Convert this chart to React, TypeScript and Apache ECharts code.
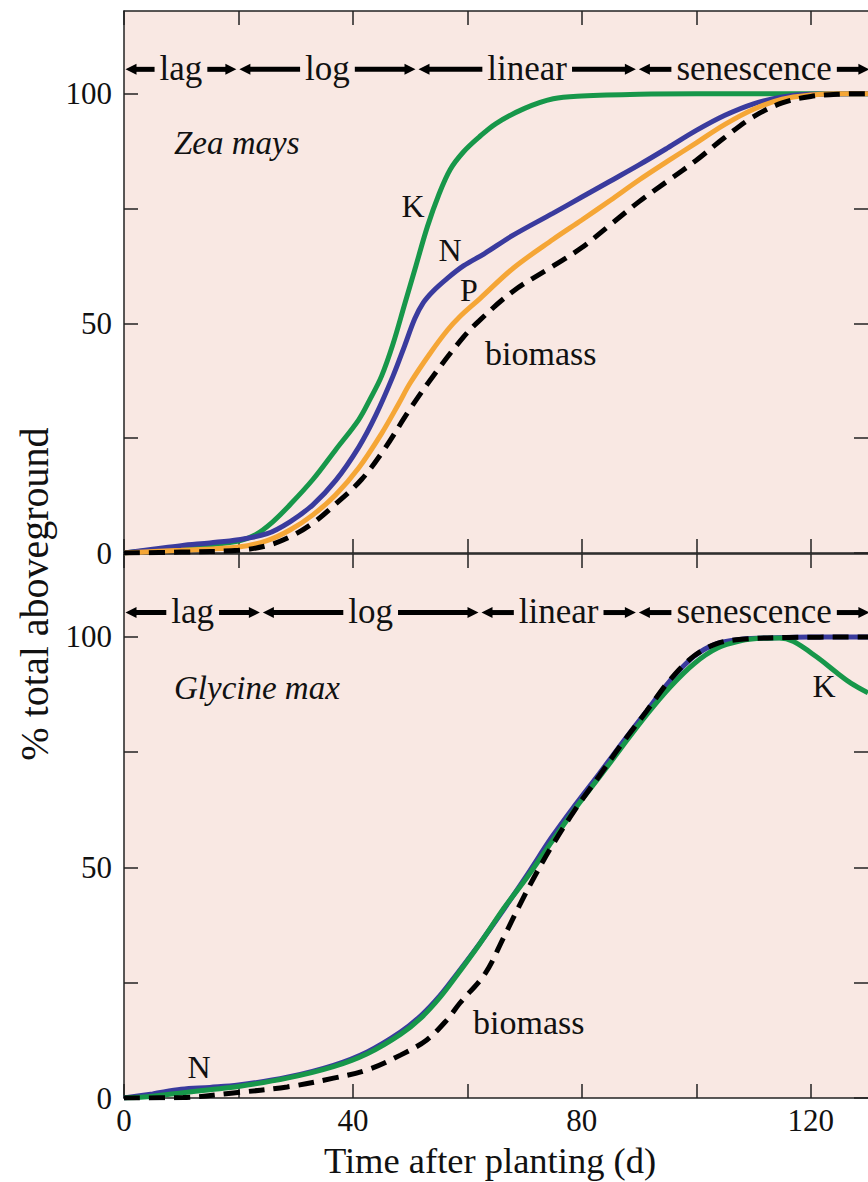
import React, { useEffect, useRef } from "react";
import * as echarts from "echarts";

// ---------- axes ----------
const X_TICKS = [0, 20, 40, 60, 80, 100, 120];
const X_LABELS = [0, 40, 80, 120];
const Y_TICKS = [0, 25, 50, 75, 100];
const Y_LABELS = [0, 50, 100];

// ---------- growth phases ----------
const PHASES = ["lag", "log", "linear", "senescence"];
const zeaPhaseEdges = [0, 19.9, 51.2, 89.7, 130.5];
const glyPhaseEdges = [0, 24.0, 62.2, 89.7, 130.5];

// ---------- Zea mays ----------
const zeaKDays = [0, 5, 10, 15, 20, 23, 26, 29, 33, 37, 41, 43, 45, 47, 49, 51, 53, 55, 57, 59.3, 62, 65, 70, 75, 80, 90, 100, 110, 120, 130];
const zeaK = [0, 0.6, 1.2, 1.8, 2.6, 4, 6.8, 10.5, 16, 22.5, 29, 33.5, 38.5, 45.5, 54, 62.5, 71, 78, 83.5, 87.3, 90.5, 93.5, 96.8, 98.9, 99.5, 99.9, 100, 100, 100, 100];

const zeaNDays = [0, 5, 10, 15, 20, 25, 29, 33, 37, 41, 44, 47, 49, 50.8, 52.3, 54, 56.5, 59.3, 63, 68, 75, 80, 85, 90, 95, 100, 105, 110, 115, 120, 130];
const zeaN = [0, 0.8, 1.6, 2.2, 2.9, 4.2, 6.8, 10.5, 15.8, 23, 30, 38.5, 45, 51, 54.5, 57, 59.8, 62.5, 65.2, 69.2, 74, 77.5, 81, 84.5, 88.2, 92, 95.3, 97.8, 99.3, 99.9, 100];

const zeaPDays = [0, 10, 20, 25, 29, 33, 37, 41, 45, 48, 50, 53.5, 56.5, 58.7, 62.2, 68, 75, 80, 85, 90, 95, 100, 105, 110, 115, 120, 125, 130];
const zeaP = [0, 0.6, 1.3, 2.7, 5, 8.3, 12.7, 18.5, 26, 32.5, 37, 43.5, 48.5, 51.5, 55.4, 62, 68.3, 72.5, 76.8, 81.2, 85.3, 89.3, 93.3, 96.6, 98.8, 99.7, 100, 100];

const zeaBioDays = [0, 10, 20, 25, 29, 33, 37, 41.5, 45.6, 49.8, 54, 59.3, 62, 68, 75, 80, 85, 90, 95, 100, 105, 110, 115, 120, 125, 130];
const zeaBio = [0, 0.2, 0.6, 1.6, 3.5, 6.5, 10.7, 16, 22.8, 31, 38.5, 47, 50.5, 57, 62.5, 66.5, 71.5, 76.5, 81, 85.5, 90.5, 95, 98, 99.4, 99.9, 100];

// ---------- Glycine max ----------
const glyKDays = [0, 5, 10, 15, 20, 28.5, 36.6, 42.5, 48.3, 52, 55.2, 58.1, 62.2, 66.4, 70.5, 74.7, 78.8, 83, 87.1, 91.3, 95.4, 99.6, 103.7, 107.9, 111, 114.5, 117, 121, 124.5, 127, 130];
const glyK = [0, 0.4, 1.1, 1.8, 2.5, 4.3, 6.8, 9.6, 13.8, 17.5, 21.8, 26.5, 33.5, 41.2, 48, 55.5, 62.7, 69.5, 76.3, 83.1, 89.1, 94.2, 97.6, 99.2, 99.7, 99.8, 99, 95.7, 92.3, 90, 87.9];

const glyNDays = [0, 5, 10, 15, 20, 28.5, 36.6, 42.5, 48.3, 52, 55.2, 58.1, 62.2, 66.4, 70.5, 74.7, 78.8, 83, 87.1, 91.3, 95.4, 99.6, 103.7, 107.9, 113, 120, 130];
const glyN = [0, 0.9, 1.9, 2.3, 2.8, 4.5, 7.1, 10, 14.3, 18, 22.2, 26.8, 33.6, 41, 48.5, 56.5, 63.5, 70.3, 77.1, 83.9, 90.5, 95.8, 98.6, 99.5, 99.8, 100, 100];

const glyBioDays = [0, 10.3, 19.1, 28.5, 36.6, 42.5, 48.3, 52.9, 56.4, 58.7, 63.1, 66.4, 69, 71.5, 74.7, 78.8, 83, 87.1, 91.3, 95.4, 99.6, 103.7, 107.9, 116.2, 130];
const glyBio = [0, 0.1, 1.1, 2.4, 4.3, 6.1, 9.3, 12.6, 16.9, 20.6, 27, 35, 41.5, 47.5, 54.5, 62.5, 69.8, 77, 83.9, 90.7, 95.9, 98.6, 99.5, 99.9, 100];

// ---------- styles ----------
const FONT = '"Liberation Serif", "Times New Roman", serif';
const BG = "#f9e8e3";
const GREEN = "#17974a";
const BLUE = "#3a3b9e";
const ORANGE = "#f5a636";
const INK = "#111";
const AXIS = "#222";

const zip = (d: number[], v: number[]) => d.map((x, i) => [x, v[i]]);

export default function App() {
  const ref = useRef<HTMLDivElement>(null);

  useEffect(() => {
    if (!ref.current) return;
    const chart = echarts.init(ref.current, null, { renderer: "svg" });

    const xAxis = (gridIndex: number, position: string, showLabels: boolean) => ({
      type: "value",
      gridIndex,
      position,
      min: 0,
      max: 130,
      axisLine: { show: true, onZero: false, lineStyle: { color: AXIS, width: 1.5 } },
      axisTick: { show: true, inside: true, length: 14, customValues: X_TICKS, lineStyle: { color: AXIS, width: 1.5 } },
      axisLabel: { show: showLabels, customValues: X_LABELS, fontFamily: FONT, fontSize: 31, color: INK, margin: 7 },
      splitLine: { show: false },
    });
    const yAxis = (gridIndex: number, position: string, showLine: boolean) => ({
      type: "value",
      gridIndex,
      position,
      min: 0,
      max: 118,
      axisLine: { show: showLine, onZero: false, lineStyle: { color: AXIS, width: 1.5 } },
      axisTick: { show: true, inside: true, length: 14, customValues: Y_TICKS, lineStyle: { color: AXIS, width: 1.5 } },
      axisLabel: { show: showLine, customValues: Y_LABELS, fontFamily: FONT, fontSize: 31, color: INK, margin: 12 },
      splitLine: { show: false },
    });

    const line = (name: string, data: number[][], panel: number, color: string, dashed = false, z = 2) => ({
      name,
      type: "line",
      xAxisIndex: panel * 2,
      yAxisIndex: panel * 2,
      data,
      smooth: 0.35,
      showSymbol: false,
      symbol: "none",
      silent: true,
      z,
      lineStyle: {
        color,
        width: 5,
        type: dashed ? [16, 9] : "solid",
        cap: "butt",
      },
    });

    chart.setOption({
      animation: false,
      backgroundColor: "#ffffff",
      grid: [
        { left: 124, top: 11, width: 744, height: 542, show: true, backgroundColor: BG, borderWidth: 0 },
        { left: 124, top: 554, width: 744, height: 544, show: true, backgroundColor: BG, borderWidth: 0 },
      ],
      xAxis: [xAxis(0, "bottom", false), xAxis(0, "top", false), xAxis(1, "bottom", true), xAxis(1, "top", false)],
      yAxis: [yAxis(0, "left", true), yAxis(0, "right", false), yAxis(1, "left", true), yAxis(1, "right", false)],
      series: [
        line("K", zip(zeaKDays, zeaK), 0, GREEN, false, 2),
        line("N", zip(zeaNDays, zeaN), 0, BLUE, false, 3),
        line("P", zip(zeaPDays, zeaP), 0, ORANGE, false, 4),
        line("biomass", zip(zeaBioDays, zeaBio), 0, "#000", true, 5),
        line("N", zip(glyNDays, glyN), 1, BLUE, false, 2),
        line("K", zip(glyKDays, glyK), 1, GREEN, false, 3),
        line("biomass", zip(glyBioDays, glyBio), 1, "#000", true, 5),
      ],
    });

    // --- phase arrows, positioned through the axes ---
    const PHASE_SIZE = 35;
    const canvas = document.createElement("canvas");
    const ctx = canvas.getContext("2d")!;
    ctx.font = `${PHASE_SIZE}px ${FONT}`;
    const ARROW_ROW = 105.3;
    const graphics: any[] = [];
    const txt = (text: string, x: number, y: number, size: number, align = "center", italic = false, rotation = 0) => ({
      type: "text",
      x,
      y,
      rotation,
      silent: true,
      z: 20,
      style: {
        text,
        fill: INK,
        font: `${italic ? "italic " : ""}${size}px ${FONT}`,
        textAlign: align,
        align,
        textVerticalAlign: "middle",
        verticalAlign: "middle",
      },
    });

    [zeaPhaseEdges, glyPhaseEdges].forEach((edges, panel) => {
      for (let i = 0; i < PHASES.length; i++) {
        const pa = chart.convertToPixel({ xAxisIndex: panel * 2, yAxisIndex: panel * 2 }, [edges[i], ARROW_ROW]) as number[];
        const pb = chart.convertToPixel({ xAxisIndex: panel * 2, yAxisIndex: panel * 2 }, [edges[i + 1], ARROW_ROW]) as number[];
        const a = pa[0] + 1.5;
        const b = pb[0] - 1.5;
        const y = pa[1];
        const c = (a + b) / 2;
        const w = ctx.measureText(PHASES[i]).width;
        const gap = 5;
        graphics.push({ type: "line", silent: true, z: 19, shape: { x1: a + 8, y1: y, x2: c - w / 2 - gap, y2: y }, style: { stroke: "#000", lineWidth: 5 } });
        graphics.push({ type: "line", silent: true, z: 19, shape: { x1: c + w / 2 + gap, y1: y, x2: b - 8, y2: y }, style: { stroke: "#000", lineWidth: 5 } });
        graphics.push({ type: "polygon", silent: true, z: 19, shape: { points: [[a, y], [a + 11, y - 5.5], [a + 11, y + 5.5]] }, style: { fill: "#000" } });
        graphics.push({ type: "polygon", silent: true, z: 19, shape: { points: [[b, y], [b - 11, y - 5.5], [b - 11, y + 5.5]] }, style: { fill: "#000" } });
        graphics.push(txt(PHASES[i], c, y - 1, PHASE_SIZE));
      }
    });

    // species & curve annotations
    graphics.push(txt("Zea mays", 174, 143, 33, "left", true));
    graphics.push(txt("K", 413, 206, 32));
    graphics.push(txt("N", 450, 250, 32));
    graphics.push(txt("P", 469, 290, 32));
    graphics.push(txt("biomass", 485, 353, 34, "left"));
    graphics.push(txt("Glycine max", 174, 688, 33, "left", true));
    graphics.push(txt("K", 824, 686, 32));
    graphics.push(txt("biomass", 473, 1022, 34, "left"));
    graphics.push(txt("N", 199, 1067, 32));
    // axis titles
    graphics.push(txt("Time after planting (d)", 490, 1160, 36.5));
    graphics.push(txt("% total aboveground", 34, 594, 40, "center", false, Math.PI / 2));

    chart.setOption({ graphic: { elements: graphics } });

    return () => chart.dispose();
  }, []);

  return (
    <div style={{ position: "fixed", left: 0, top: 0, width: 868, height: 1182, overflow: "hidden", background: "#fff" }}>
      <div ref={ref} style={{ width: 868, height: 1182 }} />
    </div>
  );
}
